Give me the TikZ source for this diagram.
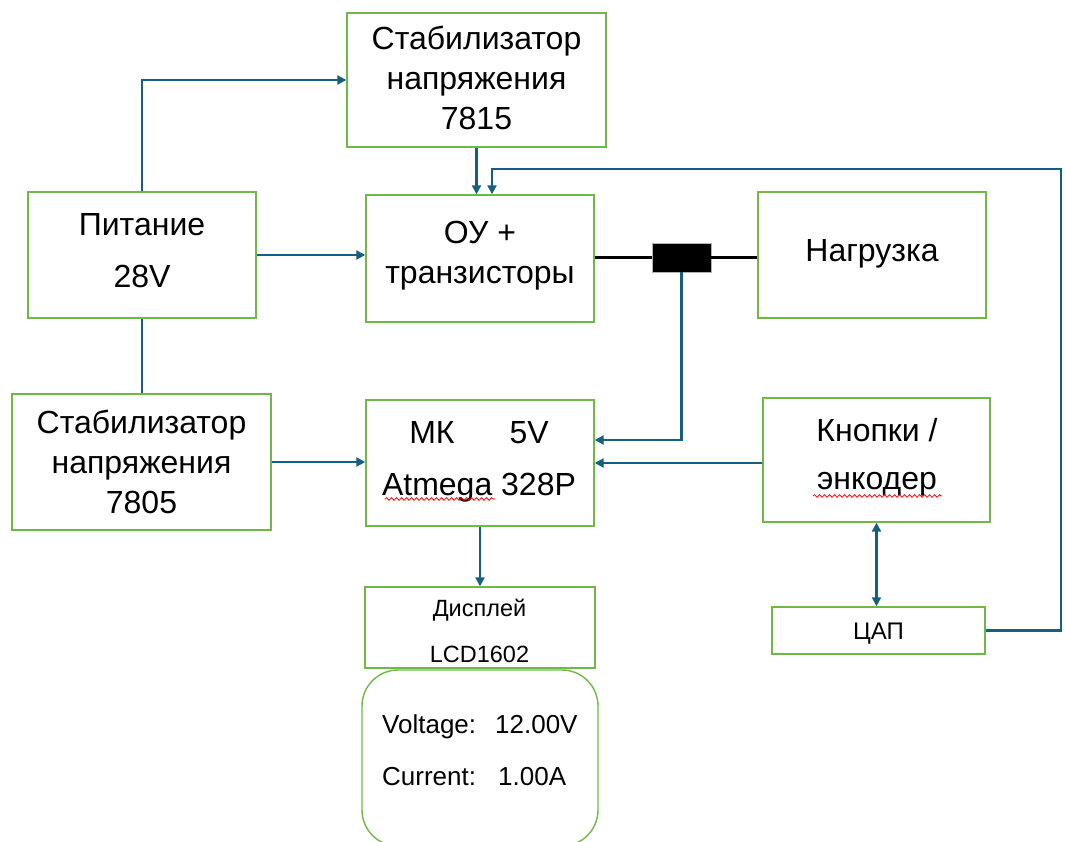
\documentclass[tikz,border=0pt]{standalone}
\usepackage{fontspec}
\setmainfont{Liberation Sans}
\usetikzlibrary{arrows.meta,decorations.pathmorphing}
\definecolor{boxgreen}{RGB}{112,184,72}
\definecolor{conncol}{RGB}{21,96,130}
\tikzset{
  box/.style={draw=boxgreen, line width=1.4pt, rectangle, inner sep=0pt},
  txt/.style={align=center, inner sep=0pt, text depth=0pt},
  big/.style={font=\fontsize{32}{40}\selectfont},
  conn/.style={draw=conncol, line width=2.2pt},
  arr/.style={conn, -{Triangle[length=9pt,width=9pt]}},
  darr/.style={conn, {Triangle[length=9pt,width=9pt]}-{Triangle[length=9pt,width=9pt]}},
  wavy/.style={draw=red, line width=0.8pt, decorate, decoration={snake, amplitude=1.3pt, segment length=5pt}}
}
\begin{document}
\begin{tikzpicture}[x=1pt,y=-1pt]
\useasboundingbox (0,0) rectangle (1065,841);
% boxes
\node[box, minimum width=259pt, minimum height=134pt] (stab15) at (476.5,80) {};
\node[box, minimum width=228pt, minimum height=126pt] (pit) at (142,255) {};
\node[box, minimum width=228pt, minimum height=127pt] (ou) at (480,258.5) {};
\node[box, minimum width=228pt, minimum height=126pt] (load) at (872,255) {};
\node[box, minimum width=259pt, minimum height=136pt] (stab05) at (141.5,462) {};
\node[box, minimum width=228pt, minimum height=126pt] (mk) at (480,463) {};
\node[box, minimum width=227pt, minimum height=124pt] (btn) at (876.5,460) {};
\node[box, minimum width=230pt, minimum height=81pt] (disp) at (480,627.5) {};
\node[box, minimum width=236pt, minimum height=176pt, rounded corners=36pt] (lcd) at (480,758) {};
\node[box, minimum width=213pt, minimum height=47pt] (dac) at (878.5,630.5) {};
\node[draw=gray!60, fill=black, line width=0.8pt, minimum width=59pt, minimum height=29pt, inner sep=0pt] (blk) at (681.5,257.5) {};
% texts
\node[txt, big] (t15) at (476.5,78) {Стабилизатор\\напряжения\\7815};
\node[txt, font=\fontsize{32}{52}\selectfont] (tpit) at (142,250) {Питание\\28V};
\node[txt, big] (tou) at (480,252) {ОУ +\\транзисторы};
\node[txt, big] (tload) at (872,250) {Нагрузка};
\node[txt, big] (t05) at (141.5,462) {Стабилизатор\\напряжения\\7805};
\node[txt, font=\fontsize{32}{52}\selectfont] (tmk) at (479,458) {МК\hspace{55pt}5V\\Atmega 328P};
\node[txt, font=\fontsize{32}{48}\selectfont] (tbtn) at (877,454) {Кнопки /\\энкодер};
\node[txt, font=\fontsize{23.5}{46}\selectfont] (tdisp) at (479.5,631) {Дисплей\\LCD1602};
\node[txt, align=left, anchor=west, font=\fontsize{26}{52}\selectfont] (tlcd) at (382,750) {\makebox[113pt][l]{Voltage:}12.00V\\\makebox[116pt][l]{Current:}1.00A};
\node[txt, font=\fontsize{24}{30}\selectfont] (tdac) at (878.5,631) {ЦАП};
% spell-check underlines
\draw[wavy] (385,499) -- (495,499);
\draw[wavy] (813,496) -- (942,496);
% connectors
\draw[arr] (pit.north) |- (stab15.west);
\draw[conn] (pit.south) -- (pit.south |- stab05.north);
\draw[arr] (pit.east) -- (pit.east -| ou.west);
\draw[arr] (stab15.south) -- (stab15.south |- ou.north);
\coordinate (c1) at (1061,169);
\draw[arr] (dac.east) -| (c1) -| ([xshift=12pt]ou.north);
\draw[line width=2.2pt, black] (ou.east |- blk.west) -- (blk.west);
\draw[line width=2.2pt, black] (blk.east) -- (blk.east -| load.west);
\draw[arr] (blk.south) |- ([yshift=23pt]mk.east);
\draw[arr] ([yshift=-3pt]btn.west) -- ([yshift=-3pt]btn.west -| mk.east);
\draw[arr] (stab05.east) -- (stab05.east -| mk.west);
\draw[arr] (mk.south) -- (disp.north);
\draw[darr] (btn.south) -- (btn.south |- dac.north);
\end{tikzpicture}
\end{document}
